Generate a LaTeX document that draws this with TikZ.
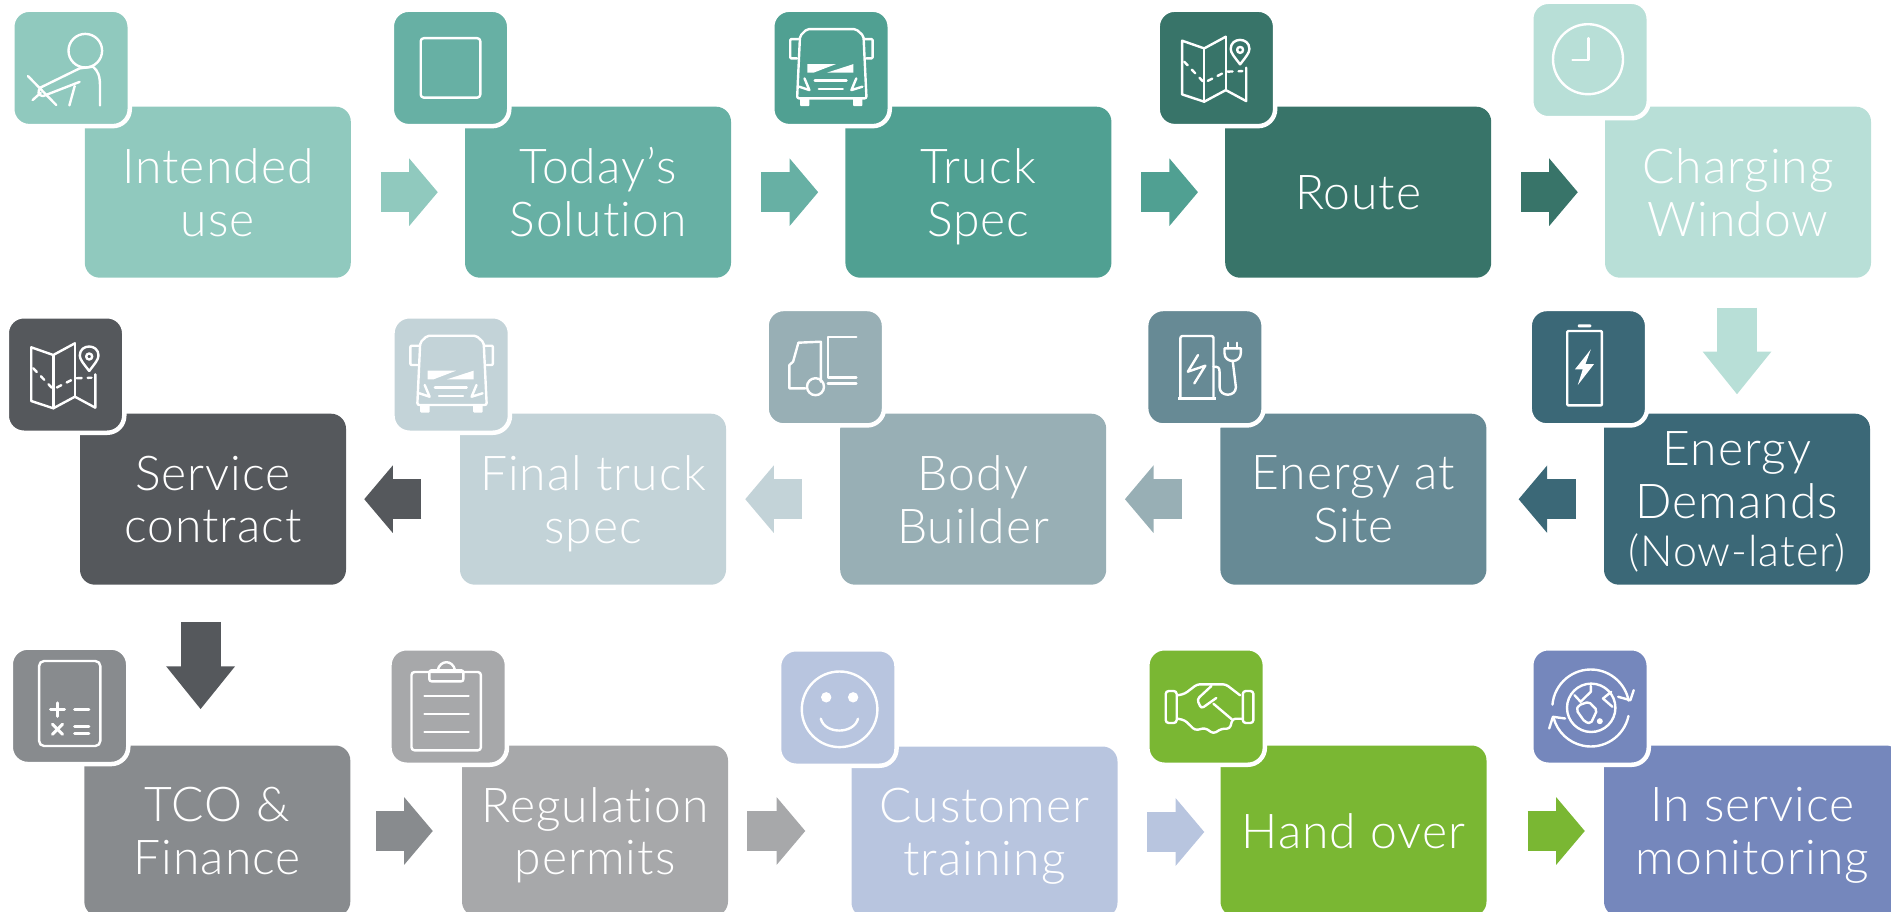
\documentclass[tikz,border=0pt]{standalone}
\usepackage{fontspec}
\setmainfont{Lato Light}[LetterSpace=2.2, Ligatures=NoCommon]
\usetikzlibrary{arrows.meta}

\definecolor{useC}{HTML}{90C9BE}
\definecolor{todayC}{HTML}{67B0A4}
\definecolor{specC}{HTML}{50A092}
\definecolor{routeC}{HTML}{387469}
\definecolor{chargeC}{HTML}{B8DFD7}
\definecolor{demandC}{HTML}{3B6877}
\definecolor{siteC}{HTML}{678A95}
\definecolor{bodyC}{HTML}{98AFB5}
\definecolor{finalC}{HTML}{C3D3D8}
\definecolor{serviceC}{HTML}{55585C}
\definecolor{tcoC}{HTML}{888B8E}
\definecolor{permitC}{HTML}{A7A8AA}
\definecolor{trainC}{HTML}{B8C5DF}
\definecolor{handC}{HTML}{7AB733}
\definecolor{monitorC}{HTML}{7587BC}

\tikzset{
    stepbox/.style={minimum width=266pt, minimum height=171pt, rounded corners=15pt, inner sep=0pt,
        text=white, align=center, text depth=0pt, font=\fontsize{48}{52.7}\selectfont},
    iconbox/.style={minimum width=117.5pt, minimum height=116.5pt, rounded corners=17pt, inner sep=0pt,
        draw=white, line width=4.5pt},
    iconline/.style={draw=white, fill=none, line width=2.4pt, line cap=round, line join=round},
    sideflow/.style={-{Triangle[length=28.6pt, width=66pt]}, line width=40pt},
    downflow/.style={-{Triangle[length=43pt, width=66pt]}, line width=40pt},
    truckicon/.pic={
        \draw[iconline, rounded corners=2pt] (-33.9,30.5) -- (-31,-32) -- (-24,-38.8) -- (25,-38.8) -- (32.5,-32) -- (35.5,30.5) -- cycle;
        \draw[iconline, rounded corners=1pt] (-32.6,-28.8) -- (-40.8,-28.8) -- (-40.8,-9.5) -- (-33.9,-9.5);
        \draw[iconline, rounded corners=1pt] (33.5,-28.8) -- (41.6,-28.8) -- (41.6,-9.5) -- (35.5,-9.5);
        \fill[white] (-23.7,-3.8) -- (4.9,-3.8) -- (-17.5,4.8) -- (-23.7,4.8) -- cycle;
        \fill[white] (22.4,-3.8) -- (22.4,4.8) -- (-4.1,4.8) -- cycle;
        \draw[iconline] (-16.3,12.8) -- (15.5,12.8);
        \draw[iconline] (-12.2,21.2) -- (11.8,21.2);
        \draw[iconline] (-26.5,10.5) -- (-21.6,22.2) -- (-31.8,18.8);
        \draw[iconline] (25.3,10.5) -- (20.4,22.2) -- (31.4,18.8);
        \fill[white, rounded corners=1pt] (-31,30.5) rectangle (-21.6,38.2);
        \fill[white, rounded corners=1pt] (22,30.5) rectangle (31.4,38.2);
    },
    mapicon/.pic={
        \draw[iconline] (9.4,-31.2) -- (-12.2,-19.5) -- (-34.3,-27.2) -- (-34.3,26.5) -- (-12.2,33.8) -- (9.4,22.2) -- (29.8,33.2) -- (29.8,-0.2);
        \draw[iconline] (-12.2,-19.5) -- (-12.2,33.8);
        \draw[iconline] (9.4,-31.2) -- (9.4,22.2);
        \draw[iconline] (23.7,-3.5) .. controls (18,-11) and (14.3,-15) .. (14.3,-19) .. controls (14.3,-31) and (33,-31) .. (33,-19) .. controls (33,-15) and (29.4,-11) .. (23.7,-3.5);
        \draw[iconline] (23.7,-18) circle[radius=3];
        \draw[iconline, dash pattern=on 5pt off 6pt] (-32.2,-6.2) -- (-12.2,14.8) -- (9.4,3.8) -- (26,3.2);
    }
}

\begin{document}
\begin{tikzpicture}[x=1pt, y=-1pt]
    \clip (0,0) rectangle (1891,912);

    % first row
    \node[stepbox, fill=useC] (use) at (217.8,192.2) {Intended\\use};
    \node[stepbox, fill=todayC] (today) at (598,192.2) {Today’s\\Solution};
    \node[stepbox, fill=specC] (spec) at (978.4,192.2) {Truck\\Spec};
    \node[stepbox, fill=routeC] (route) at (1358.2,192.2) {Route};
    \node[stepbox, fill=chargeC] (charge) at (1738,192.2) {Charging\\Window};

    % second row
    \node[stepbox, fill=demandC] (demand) at (1737,499.2) {Energy\\Demands\\[-5pt]{\fontsize{43}{47}\selectfont (Now-later)}};
    \node[stepbox, fill=siteC] (site) at (1353.4,499.2) {Energy at\\Site};
    \node[stepbox, fill=bodyC] (body) at (973.2,499.2) {Body\\Builder};
    \node[stepbox, fill=finalC] (final) at (593,499.2) {Final truck\\spec};
    \node[stepbox, fill=serviceC] (service) at (213,499.2) {Service\\contract};

    % third row
    \node[stepbox, fill=tcoC] (tco) at (217.3,831) {TCO \&\\Finance};
    \node[stepbox, fill=permitC] (permit) at (595,831) {Regulation\\permits};
    \node[stepbox, fill=trainC] (train) at (984.5,832) {Customer\\training};
    \node[stepbox, fill=handC] (hand) at (1353.5,831) {Hand over};
    \node[stepbox, fill=monitorC, minimum width=297pt] (monitor) at (1752.5,831) {In service\\monitoring};

    % arrows
    \draw[sideflow, useC, shorten <=29.6pt, shorten >=27pt] (use.east) -- (today.west);
    \draw[sideflow, todayC, shorten <=29.6pt, shorten >=27pt] (today.east) -- (spec.west);
    \draw[sideflow, specC, shorten <=29.6pt, shorten >=27pt] (spec.east) -- (route.west);
    \draw[sideflow, routeC, shorten <=29.6pt, shorten >=27pt] (route.east) -- (charge.west);
    \draw[downflow, chargeC, shorten <=29.6pt, shorten >=19pt] (charge.south -| demand.north) -- (demand.north);
    \draw[sideflow, demandC, shorten <=28pt, shorten >=32pt] (demand.west) -- (site.east);
    \draw[sideflow, bodyC, shorten <=38pt, shorten >=18.5pt] (site.west) -- (body.east);
    \draw[sideflow, finalC, shorten <=38pt, shorten >=19pt] (body.west) -- (final.east);
    \draw[sideflow, serviceC, shorten <=38.4pt, shorten >=18pt] (final.west) -- (service.east);
    \coordinate (turn) at ([xshift=-12.4pt]service.south);
    \draw[downflow, serviceC, shorten <=37pt, shorten >=36pt] (turn) -- (turn |- tco.north);
    \draw[sideflow, tcoC, shorten <=25.5pt, shorten >=29pt] (tco.east) -- (permit.west);
    \draw[sideflow, permitC, shorten <=19pt, shorten >=46pt] (permit.east) -- (permit.east -| train.west);
    \draw[sideflow, trainC, shorten <=29.5pt, shorten >=16pt] (train.east) -- (train.east -| hand.west);
    \draw[sideflow, handC, shorten <=41pt, shorten >=19pt] (hand.east) -- (monitor.west);

    % icon boxes
    \node[iconbox, fill=useC] (useicon) at (71,67.9) {};
    \node[iconbox, fill=todayC] (todayicon) at (450.5,67.9) {};
    \node[iconbox, fill=specC] (specicon) at (831,67.9) {};
    \node[iconbox, fill=routeC] (routeicon) at (1216.4,67.9) {};
    \node[iconbox, fill=chargeC] (chargeicon) at (1590,60) {};
    \node[iconbox, fill=demandC] (demandicon) at (1588.4,367.2) {};
    \node[iconbox, fill=siteC] (siteicon) at (1204.9,367.2) {};
    \node[iconbox, fill=bodyC] (bodyicon) at (825.3,367.2) {};
    \node[iconbox, fill=finalC] (finalicon) at (451.2,374.5) {};
    \node[iconbox, fill=serviceC] (serviceicon) at (65.5,374.5) {};
    \node[iconbox, fill=tcoC] (tcoicon) at (69.5,705.8) {};
    \node[iconbox, fill=permitC] (permiticon) at (448.2,706.5) {};
    \node[iconbox, fill=trainC] (trainicon) at (837.8,707.5) {};
    \node[iconbox, fill=handC] (handicon) at (1206.1,706.5) {};
    \node[iconbox, fill=monitorC] (monitoricon) at (1590,706.5) {};

    % person
    \begin{scope}[shift={(useicon.center)}]
        \draw[iconline] (14.3,-17.2) circle[radius=16.8];
        \draw[iconline] (22,-1.2) -- (8.6,0.5) -- (-30.2,19.5);
        \draw[iconline] (-30.2,19.5) .. controls (-34,23) and (-33,28) .. (-28,28.2) -- (8.6,14);
        \draw[iconline] (-43,8.2) -- (-14.7,37.2);
        \draw[iconline] (-38.4,32.2) -- (-30.2,24.8);
        \draw[iconline] (3.7,18.2) -- (-1.6,37.5);
        \draw[iconline] (22,-1.2) .. controls (27,3) and (29,8) .. (29,18) -- (29,37.5);
    \end{scope}

    % blank tablet
    \begin{scope}[shift={(todayicon.center)}]
        \draw[iconline, rounded corners=3pt] (-29.8,-29.7) rectangle (29.8,29.7);
    \end{scope}

    \pic at (specicon.center) {truckicon};
    \pic at (routeicon.center) {mapicon};

    % clock
    \begin{scope}[shift={(chargeicon.center)}]
        \draw[iconline] (-2,-0.8) circle[radius=35];
        \draw[iconline] (-1.6,-21.8) -- (-1.6,0) -- (-17.5,0);
    \end{scope}

    % battery
    \begin{scope}[shift={(demandicon.center)}]
        \draw[iconline, rounded corners=1pt] (-21.2,-36.2) rectangle (13.5,38.2);
        \fill[white, rounded corners=1pt] (-10.6,-42.8) rectangle (2.9,-39.8);
        \fill[white] (2.4,-17.8) -- (-13.5,2.2) -- (-5.7,2.2) -- (-10.6,17.8) -- (5.7,-3.2) -- (-2.9,-3.2) -- cycle;
    \end{scope}

    % charger
    \begin{scope}[shift={(siteicon.center)}]
        \draw[iconline, rounded corners=2pt] (-24.5,31.2) -- (-24.5,-31.2) -- (8.6,-31.2) -- (8.6,31.2);
        \draw[white, line width=3pt] (-26.9,31.5) -- (11.4,31.5);
        \draw[iconline] (-6.9,-12.2) -- (-17.1,4.5) -- (0.4,-1.5) -- (-10.6,16.2);
        \draw[iconline] (8.6,-0.5) .. controls (13,-0.5) and (14.7,0) .. (14.7,5) -- (14.7,20) .. controls (14.7,30) and (31,30) .. (31,20) -- (27.8,-6.2);
        \draw[iconline] (19.6,-18.8) -- (35.9,-18.8) -- (35.9,-14) .. controls (35.9,-9) and (32,-6.2) .. (27.8,-6.2) .. controls (23.5,-6.2) and (19.6,-9) .. (19.6,-14) -- cycle;
        \draw[iconline] (22.9,-24.5) -- (22.9,-18.8);
        \draw[iconline] (32.3,-24.5) -- (32.3,-18.8);
    \end{scope}

    % chassis cab and body
    \begin{scope}[shift={(bodyicon.center)}]
        \draw[iconline] (-20,21.2) -- (-35.9,21.2) -- (-35.9,-2.2) -- (-32.2,-5.5) -- (-26.9,-24.5) -- (-4.5,-25.5) -- (-4.5,14.5);
        \draw[iconline] (-9.8,19.5) circle[radius=8.5];
        \draw[iconline] (31,-30.5) -- (2.4,-30.5) -- (2.4,10.2) -- (31,10.2);
        \draw[iconline] (2.4,16.2) -- (31,16.2);
    \end{scope}

    \pic at (finalicon.center) {truckicon};
    \pic at (serviceicon.center) {mapicon};

    % calculator
    \begin{scope}[shift={(tcoicon.center)}]
        \draw[iconline, rounded corners=5pt] (-30.4,-44.8) rectangle (30.8,40.2);
        \draw[iconline, line width=3pt] (-19,3.8) -- (-5,3.8);
        \draw[iconline, line width=3pt] (-12,-3) -- (-12,10.6);
        \draw[iconline, line width=3pt] (5.1,3.5) -- (19.4,3.5);
        \draw[iconline, line width=3pt] (-17,18.5) -- (-7,28.5);
        \draw[iconline, line width=3pt] (-17,28.5) -- (-7,18.5);
        \draw[iconline, line width=3pt] (5.1,20.2) -- (19.4,20.2);
        \draw[iconline, line width=3pt] (5.1,27.8) -- (19.4,27.8);
    \end{scope}

    % clipboard
    \begin{scope}[shift={(permiticon.center)}]
        \draw[iconline, rounded corners=3pt] (-36.7,-34.5) rectangle (32.7,43.8);
        \draw[iconline, rounded corners=2pt] (-18.8,-36.2) rectangle (15.1,-25.2);
        \draw[iconline] (-10.6,-36.2) .. controls (-8,-47) and (4.5,-47) .. (6.9,-36.2);
        \draw[iconline] (-23.7,-10.5) -- (20.4,-10.5);
        \draw[iconline] (-23.7,7.2) -- (20.4,7.2);
        \draw[iconline] (-23.7,25.2) -- (20.4,25.2);
    \end{scope}

    % smile
    \begin{scope}[shift={(trainicon.center)}]
        \draw[iconline] (1.8,1.8) circle[radius=37.8];
        \fill[white] (-11.6,-10.2) circle[radius=5.2];
        \fill[white] (15.3,-10.2) circle[radius=5.2];
        \draw[iconline] (-17,11.2) .. controls (-13,27) and (16,27) .. (20.2,11.2);
    \end{scope}

    % handshake
    \begin{scope}[shift={(handicon.center)}]
        \draw[iconline, rounded corners=3pt] (-40.4,-15.5) rectangle (-29.4,16.5);
        \draw[iconline, rounded corners=3pt] (36.7,-15.5) rectangle (47.3,16.5);
        \draw[iconline, rounded corners=3pt] (-28.2,-11.2) -- (-21.2,-12.8) -- (-9,-22.2) -- (19.6,-22.2) -- (34,-11.2);
        \draw[iconline, rounded corners=3pt] (-28.2,12.2) -- (-21.2,13.8) -- (-11,23.8) -- (-0.8,21.5) -- (7.3,27.2) -- (15.5,22.2) -- (23.7,22.2) -- (26.5,12.2) -- (35.9,12.2);
        \draw[iconline, rounded corners=3pt] (5.3,-20.5) -- (-9,-7.2) -- (-4.9,2.2) -- (10.2,-8.5);
        \draw[iconline] (7.3,-2.8) -- (25.7,12.8);
    \end{scope}

    % globe
    \begin{scope}[shift={(monitoricon.center)}]
        \draw[iconline] (1.2,1.3) circle[radius=24.2];
        \draw[iconline] (-37.55,-1.86) arc[start angle=-175, end angle=-11, radius=38.5];
        \draw[iconline] (38.46,9.5) arc[start angle=12, end angle=165, radius=38.5];
        \draw[iconline] (28.2,-9.7) -- (40.4,-6.3) -- (43.7,-16.3);
        \draw[iconline] (-24.9,12) -- (-37.1,10.3) -- (-40.8,22);
        \draw[iconline, rounded corners=2pt] (-11.4,-1.3) -- (-1.2,-4.7) -- (7,3.7) -- (0.8,17) -- (-5.3,15.3) -- (-13.5,3.7) -- cycle;
        \draw[iconline] (-15.5,-11.3) -- (-9.4,-4.7) -- (0.8,-14.7) -- (0.8,-20.7);
        \draw[iconline] (21.2,-14.7) -- (13,-8) -- (22.4,0.3);
        \fill[white] (9.8,14.7) circle[radius=3];
    \end{scope}
\end{tikzpicture}
\end{document}
